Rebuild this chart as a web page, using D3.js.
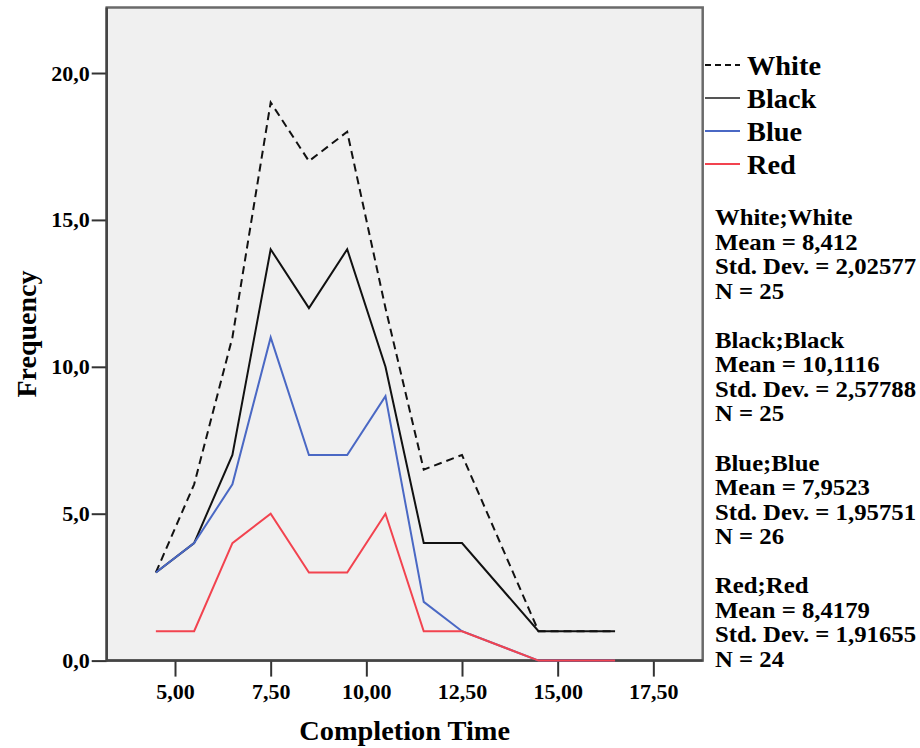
<!DOCTYPE html>
<html>
<head>
<meta charset="utf-8">
<script src="https://cdn.jsdelivr.net/npm/d3@7/dist/d3.min.js"></script>
<style>
  html, body { margin: 0; padding: 0; background: #ffffff; }
  svg { display: block; }
  text { font-family: "Liberation Serif", "Times New Roman", serif; font-weight: bold; fill: #000; }
</style>
</head>
<body>
<svg id="chart" width="920" height="748"></svg>
<script>
// Completion time bins (bin midpoints) and frequencies per group
const binMids = [4.5, 5.5, 6.5, 7.5, 8.5, 9.5, 10.5, 11.5, 12.5, 14.5, 15.5, 16.5];
const whiteFreq = [3, 6, 11, 19, 17, 18, 12, 6.5, 7, 1, 1, 1];
const blackFreq = [3, 4, 7, 14, 12, 14, 10, 4, 4, 1, 1, 1];
const blueFreq  = [3, 4, 6, 11, 7, 7, 9, 2, 1, 0, 0, 0];
const redFreq   = [1, 1, 4, 5, 3, 3, 5, 1, 1, 0, 0, 0];

const groupNames = ["White", "Black", "Blue", "Red"];
const xTicks = [5, 7.5, 10, 12.5, 15, 17.5];
const yTicks = [0, 5, 10, 15, 20];

const statsLines = [
  ["White;White", "Mean = 8,412", "Std. Dev. = 2,02577", "N = 25"],
  ["Black;Black", "Mean = 10,1116", "Std. Dev. = 2,57788", "N = 25"],
  ["Blue;Blue", "Mean = 7,9523", "Std. Dev. = 1,95751", "N = 26"],
  ["Red;Red", "Mean = 8,4179", "Std. Dev. = 1,91655", "N = 24"]
];

const styles = {
  White: { color: "#111111", dash: "8,5" },
  Black: { color: "#111111", dash: null },
  Blue:  { color: "#4a68c4", dash: null },
  Red:   { color: "#f2434f", dash: null }
};

const series = {
  White: whiteFreq,
  Black: blackFreq,
  Blue: blueFreq,
  Red: redFreq
};

const svg = d3.select("#chart");

const plot = { left: 106.7, right: 702.7, top: 7.5, bottom: 660.6 };

const x = d3.scaleLinear().domain([3.215, 18.79]).range([plot.left, plot.right]);
const y = d3.scaleLinear().domain([0, 22.23]).range([plot.bottom, plot.top]);

const locale = d3.formatLocale({ decimal: ",", thousands: ".", grouping: [3], currency: ["", ""] });
const fmtX = locale.format(".2f");
const fmtY = locale.format(".1f");

// Plot background and frame
svg.append("rect")
  .attr("x", plot.left).attr("y", plot.top)
  .attr("width", plot.right - plot.left).attr("height", plot.bottom - plot.top)
  .attr("fill", "#f0f0f0")
  .attr("stroke", "#6a6a6a")
  .attr("stroke-width", 2.5);

// Axes
const yAxis = d3.axisLeft(y).tickValues(yTicks).tickFormat(fmtY).tickSize(15).tickPadding(2);
const xAxis = d3.axisBottom(x).tickValues(xTicks).tickFormat(fmtX).tickSize(16).tickPadding(7);

const gy = svg.append("g").attr("transform", `translate(${plot.left},0)`).call(yAxis);
const gx = svg.append("g").attr("transform", `translate(0,${plot.bottom})`).call(xAxis);

[gx, gy].forEach(g => {
  g.select(".domain").remove();
  g.selectAll(".tick line").attr("stroke", "#333").attr("stroke-width", 2);
  g.selectAll(".tick text")
    .attr("font-family", "Liberation Serif, Times New Roman, serif")
    .attr("font-weight", "bold")
    .attr("font-size", 22)
    .attr("fill", "#000");
});

// Darker left and bottom axis lines
svg.append("line")
  .attr("x1", plot.left).attr("x2", plot.left)
  .attr("y1", plot.top).attr("y2", plot.bottom + 1)
  .attr("stroke", "#444").attr("stroke-width", 2.5);
svg.append("line")
  .attr("x1", plot.left).attr("x2", plot.right)
  .attr("y1", plot.bottom).attr("y2", plot.bottom)
  .attr("stroke", "#444").attr("stroke-width", 2.5);

// Frequency polygons
const line = d3.line()
  .x((d, i) => x(binMids[i]))
  .y(d => y(d));

const drawOrder = ["Black", "White", "Blue", "Red"];
drawOrder.forEach(name => {
  svg.append("path")
    .datum(series[name])
    .attr("d", line)
    .attr("fill", "none")
    .attr("stroke", styles[name].color)
    .attr("stroke-width", 2)
    .attr("stroke-linejoin", "miter")
    .attr("stroke-dasharray", styles[name].dash);
});

// Text helper with slight horizontal widening
function label(parent, tx, ty, str, size, sx, anchor) {
  return parent.append("text")
    .attr("transform", `translate(${tx},${ty}) scale(${sx},1)`)
    .attr("font-size", size)
    .attr("text-anchor", anchor || "start")
    .text(str);
}

// Axis titles
label(svg, (plot.left + plot.right) / 2, 740, "Completion Time", 27, 1.05, "middle");
svg.append("text")
  .attr("transform", `translate(36,${(plot.top + plot.bottom) / 2}) rotate(-90)`)
  .attr("font-size", 28)
  .attr("text-anchor", "middle")
  .text("Frequency");

// Legend
const legend = svg.append("g");
groupNames.forEach((name, i) => {
  const ly = 65 + i * 33;
  legend.append("line")
    .attr("x1", 705).attr("x2", 740)
    .attr("y1", ly).attr("y2", ly)
    .attr("stroke", name === "White" ? "#111" : (name === "Black" ? "#555" : styles[name].color))
    .attr("stroke-width", 2)
    .attr("stroke-dasharray", name === "White" ? "6,4" : null);
  label(legend, 747, ly + 10, name, 27, 1.05);
});

// Summary statistics
const stats = svg.append("g");
statsLines.forEach((block, b) => {
  block.forEach((txt, j) => {
    label(stats, 715, 225 + b * 122.8 + j * 24.5, txt, 22.5, 1.1);
  });
});
</script>
</body>
</html>
